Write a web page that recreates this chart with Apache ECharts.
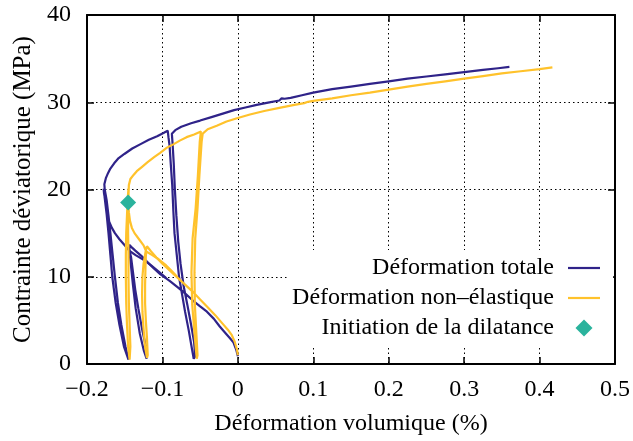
<!DOCTYPE html>
<html>
<head>
<meta charset="utf-8">
<script src="https://cdn.jsdelivr.net/npm/echarts@6/dist/echarts.min.js"></script>
<style>
html,body{margin:0;padding:0;background:#fff;}
#chart{width:633px;height:441px;}
</style>
</head>
<body>
<div id="chart"></div>
<script>
// ---- Data ----
const seriesNames = ['Déformation totale', 'Déformation non–élastique', 'Initiation de la dilatance'];

// Total volumetric strain (%) vs deviatoric stress (MPa): main continuous path
const totalMain = [
  [0.000,0.9],[-0.002,1.6],[-0.006,2.5],[-0.011,3.0],[-0.016,3.5],[-0.024,4.3],[-0.032,5.2],[-0.041,6.0],
  [-0.050,6.6],[-0.060,7.3],[-0.070,8.1],[-0.080,8.8],[-0.090,9.5],[-0.103,10.3],[-0.112,11.0],[-0.120,11.7],
  [-0.128,12.4],[-0.136,13.0],[-0.141,13.4],[-0.144,13.65],
  [-0.1435,12.8],[-0.142,11.5],[-0.139,9.0],[-0.1355,6.4],[-0.130,3.5],[-0.1245,1.5],[-0.121,0.6],
  [-0.1195,0.8],[-0.122,2.0],[-0.127,4.0],[-0.132,6.4],[-0.136,8.5],[-0.139,10.5],[-0.1415,12.2],[-0.1435,12.95],
  [-0.150,13.6],[-0.157,14.3],[-0.163,15.0],[-0.167,15.6],[-0.171,16.4],[-0.1735,17.5],[-0.1755,18.6],[-0.1775,19.6],[-0.178,20.1],
  [-0.1765,19.0],[-0.174,17.2],[-0.1715,15.0],[-0.169,12.5],[-0.1665,10.0],[-0.162,7.0],[-0.157,4.5],[-0.151,2.0],[-0.145,0.5],
  [-0.149,2.0],[-0.1545,4.5],[-0.159,7.0],[-0.163,10.0],[-0.166,12.5],[-0.169,15.0],[-0.1715,17.0],[-0.174,18.8],[-0.1765,20.0],
  [-0.177,20.6],[-0.175,21.3],[-0.172,21.9],[-0.169,22.4],[-0.164,23.0],[-0.158,23.6],[-0.150,24.1],[-0.140,24.7],
  [-0.129,25.2],[-0.118,25.7],[-0.107,26.1],[-0.098,26.5],[-0.093,26.75],
  [-0.092,26.0],[-0.0905,25.0],[-0.089,23.0],[-0.087,20.5],[-0.0855,17.5],[-0.084,15.0],[-0.081,12.5],[-0.078,10.0],
  [-0.074,8.0],[-0.070,6.0],[-0.065,3.8],[-0.061,1.8],[-0.0585,0.6],
  [-0.0565,0.9],[-0.058,2.5],[-0.062,4.5],[-0.067,6.8],[-0.072,9.0],[-0.076,11.5],[-0.079,14.0],[-0.0815,17.0],
  [-0.0835,20.0],[-0.085,23.0],[-0.0865,25.2],[-0.0875,26.4],
  [-0.083,26.8],[-0.075,27.2],[-0.062,27.6],[-0.050,27.9],[-0.035,28.3],[-0.020,28.7],[-0.005,29.1],[0.010,29.4],
  [0.025,29.7],[0.040,29.95],[0.055,30.2],[0.058,30.45],[0.062,30.4],[0.070,30.5],[0.085,30.8],[0.100,31.1],
  [0.125,31.5],[0.150,31.8],[0.175,32.1],[0.200,32.4],[0.225,32.7],[0.250,32.95],[0.275,33.2],[0.300,33.45],
  [0.325,33.7],[0.345,33.9],[0.360,34.05]
];
// Total strain: second branch of the first cycle
const totalBranch = [
  [-0.1435,12.95],[-0.135,12.45],[-0.125,11.95],[-0.115,11.3],[-0.105,10.6],[-0.095,9.85]
];

// Non-elastic volumetric strain (%) vs deviatoric stress (MPa)
const nonElasticMain = [
  [0.000,1.0],[-0.001,1.6],[-0.004,2.5],[-0.008,3.3],[-0.013,3.9],[-0.020,4.6],[-0.030,5.6],[-0.040,6.5],
  [-0.050,7.4],[-0.060,8.3],[-0.070,9.1],[-0.080,9.9],[-0.090,10.7],[-0.100,11.5],[-0.108,12.2],[-0.115,12.9],[-0.1205,13.5],
  [-0.1225,12.8],[-0.1250,11.5],[-0.1265,10.0],[-0.127,8.0],[-0.1265,6.0],[-0.125,4.0],[-0.123,2.0],[-0.1205,0.7],
  [-0.1195,1.0],[-0.1205,3.0],[-0.122,5.0],[-0.123,7.0],[-0.123,9.0],[-0.1225,11.0],[-0.122,12.3],[-0.1215,12.9],
  [-0.125,13.6],[-0.131,14.3],[-0.137,15.0],[-0.1405,15.6],[-0.143,16.4],[-0.1445,17.4],[-0.1455,18.5],[-0.1455,19.5],[-0.145,20.1],
  [-0.146,19.0],[-0.147,17.0],[-0.148,15.0],[-0.1485,12.5],[-0.1485,10.0],[-0.148,7.0],[-0.147,4.5],[-0.1455,2.0],[-0.1435,0.5],
  [-0.1425,2.0],[-0.1435,4.5],[-0.1445,7.0],[-0.145,10.0],[-0.145,12.5],[-0.1455,15.0],[-0.1455,17.5],[-0.145,19.3],[-0.1445,20.5],
  [-0.1425,21.2],[-0.138,21.7],[-0.134,22.1],[-0.127,22.6],[-0.120,23.1],[-0.111,23.7],[-0.103,24.2],[-0.094,24.8],
  [-0.085,25.2],[-0.077,25.6],[-0.068,26.0],[-0.058,26.3],[-0.049,26.65],
  [-0.0505,25.5],[-0.053,21.6],[-0.056,17.8],[-0.060,14.4],[-0.0615,10.5],[-0.0605,6.8],[-0.057,3.0],[-0.0545,0.6],
  [-0.0535,1.0],[-0.055,3.5],[-0.057,6.8],[-0.0575,10.5],[-0.0565,14.4],[-0.0535,17.8],[-0.051,21.6],[-0.048,25.5],[-0.0466,26.4],
  [-0.040,26.9],[-0.028,27.3],[-0.015,27.8],[0.000,28.2],[0.016,28.6],[0.035,29.0],[0.055,29.35],[0.075,29.7],
  [0.088,29.9],[0.090,30.1],[0.093,30.05],[0.100,30.15],[0.125,30.45],[0.150,30.8],[0.175,31.1],[0.200,31.45],
  [0.225,31.8],[0.250,32.1],[0.275,32.4],[0.300,32.7],[0.325,33.0],[0.350,33.3],[0.375,33.55],[0.400,33.8],[0.417,34.0]
];
const nonElasticBranch = [
  [-0.1215,12.9],[-0.114,12.5],[-0.105,12.0],[-0.095,11.3],[-0.087,10.6],[-0.080,9.95]
];

// Dilatancy initiation point
const dilatancyPoint = [[-0.1455, 18.5]];

// Axis ranges / ticks
const xRange = { min: -0.2, max: 0.5, step: 0.1 };
const yRange = { min: 0, max: 40, step: 10 };

// ---- Styling ----
const FONT = 'Liberation Serif';
const BLUE = '#2f2389';
const YELLOW = '#ffc22b';
const TEAL = '#2ab39d';
const LINE_ICON = 'path://M0,0H32V2.2H0Z';
const DIAMOND_ICON = 'path://M8,0L16,8L8,16L0,8Z';

const fmtX = v => { const r = Math.round(v * 10) / 10; return r < 0 ? '\u2212' + Math.abs(r) : String(Math.abs(r)); };

const baseAxisLine = { show: true, onZero: false, lineStyle: { color: '#000', width: 2 } };
const tickStyle = { show: true, inside: true, length: 7, lineStyle: { color: '#000', width: 1.5 } };
const gridLine = { show: true, lineStyle: { color: '#000', width: 1, type: [1.5, 3] } };

const chart = echarts.init(document.getElementById('chart'), null, { renderer: 'canvas' });
chart.setOption({
  animation: false,
  backgroundColor: '#fff',
  grid: { left: 87, right: 16, top: 15, bottom: 75, containLabel: false },
  legend: {
    orient: 'vertical',
    align: 'right',
    right: 20,
    top: 250,
    padding: [3, 13, 2, 5],
    itemGap: 0,
    itemWidth: 32,
    itemHeight: 17,
    symbolKeepAspect: true,
    backgroundColor: '#fff',
    data: [
      { name: seriesNames[0], icon: LINE_ICON },
      { name: seriesNames[1], icon: LINE_ICON },
      { name: seriesNames[2], icon: DIAMOND_ICON }
    ],
    textStyle: { fontFamily: FONT, fontSize: 24, color: '#000', lineHeight: 30, padding: [0, 9, 0, 0] },
    selectedMode: false
  },
  xAxis: [
    {
      type: 'value', min: xRange.min, max: xRange.max, interval: xRange.step,
      name: 'Déformation volumique (%)', nameLocation: 'middle', nameGap: 48,
      nameTextStyle: { fontFamily: FONT, fontSize: 24, color: '#000' },
      axisLine: baseAxisLine, axisTick: tickStyle,
      axisLabel: { formatter: fmtX, fontFamily: FONT, fontSize: 24, color: '#000', margin: 14 },
      splitLine: gridLine
    },
    {
      type: 'value', position: 'top', min: xRange.min, max: xRange.max, interval: xRange.step,
      axisLine: baseAxisLine, axisTick: tickStyle, axisLabel: { show: false }, splitLine: { show: false }
    }
  ],
  yAxis: [
    {
      type: 'value', min: yRange.min, max: yRange.max, interval: yRange.step,
      name: 'Contrainte déviatorique (MPa)', nameLocation: 'middle', nameGap: 42,
      nameTextStyle: { fontFamily: FONT, fontSize: 25, color: '#000' },
      axisLine: baseAxisLine, axisTick: tickStyle,
      axisLabel: { fontFamily: FONT, fontSize: 24, color: '#000', margin: 16 },
      splitLine: gridLine
    },
    {
      type: 'value', position: 'right', min: yRange.min, max: yRange.max, interval: yRange.step,
      axisLine: baseAxisLine, axisTick: tickStyle, axisLabel: { show: false }, splitLine: { show: false }
    }
  ],
  series: [
    { name: seriesNames[0], type: 'line', data: totalMain, showSymbol: false, symbol: 'none',
      lineStyle: { color: BLUE, width: 2.2 }, itemStyle: { color: BLUE }, z: 3 },
    { name: seriesNames[0], type: 'line', data: totalBranch, showSymbol: false, symbol: 'none',
      lineStyle: { color: BLUE, width: 2.2 }, itemStyle: { color: BLUE }, z: 3 },
    { name: seriesNames[1], type: 'line', data: nonElasticMain, showSymbol: false, symbol: 'none',
      lineStyle: { color: YELLOW, width: 2.2 }, itemStyle: { color: YELLOW }, z: 3 },
    { name: seriesNames[1], type: 'line', data: nonElasticBranch, showSymbol: false, symbol: 'none',
      lineStyle: { color: YELLOW, width: 2.2 }, itemStyle: { color: YELLOW }, z: 3 },
    { name: seriesNames[2], type: 'scatter', data: dilatancyPoint, symbol: 'diamond', symbolSize: 16,
      itemStyle: { color: TEAL, opacity: 1 }, z: 5 }
  ]
});
</script>
</body>
</html>
